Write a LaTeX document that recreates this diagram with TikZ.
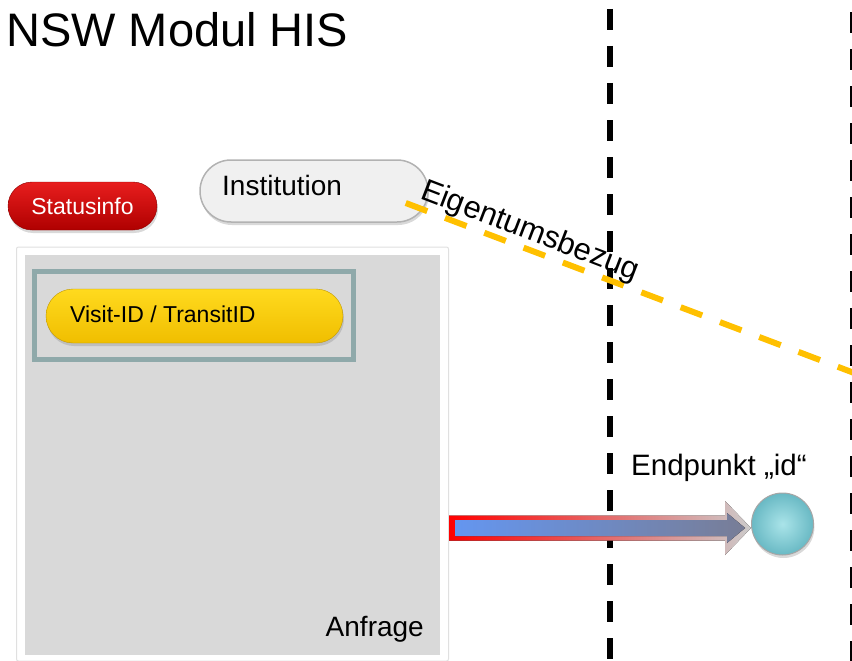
\documentclass[tikz,border=0pt]{standalone}
\usepackage{fontspec}
\setmainfont{Liberation Sans}
\usetikzlibrary{positioning,calc,shadows,shapes.misc}

\definecolor{rojoarriba}{RGB}{232,30,30}
\definecolor{rojoabajo}{RGB}{175,0,0}
\definecolor{amarilloarriba}{RGB}{255,218,30}
\definecolor{amarilloabajo}{RGB}{240,190,0}
\definecolor{gristexto}{RGB}{217,217,217}
\definecolor{turquesa}{RGB}{143,169,170}
\definecolor{naranja}{RGB}{255,192,0}
\definecolor{azulflecha}{RGB}{100,150,240}
\definecolor{grisflecha}{RGB}{120,125,150}
\definecolor{bolaclara}{RGB}{170,228,233}
\definecolor{bolaoscura}{RGB}{105,185,196}

\begin{document}
\begin{tikzpicture}[x=1pt, y=-1pt,
			 pille/.style={rounded rectangle, draw, inner sep=0pt,
			 	drop shadow={opacity=0.3, shadow xshift=1pt, shadow yshift=-3pt}},
			 texto/.style={inner sep=0pt, font=\fontsize{28}{32}\selectfont},
			 grenze/.style={line width=6pt, dash pattern=on 21pt off 16pt}
  		]
	\useasboundingbox (0,0) rectangle (852,661);

	%Titulo
		\node[texto, anchor=base west, font=\fontsize{47}{52}\selectfont] (titel) at (6,47) {NSW Modul HIS};

	%Lineas de frontera
		\draw[grenze] (610,9) -- (610,661);
		\draw[grenze] (853,12) -- (853,661);

	%Creamos los nodos de arriba
		\node[pille, top color=rojoarriba, bottom color=rojoabajo, draw=rojoabajo!80!black,
			minimum width=149pt, minimum height=48pt, text=white,
			font=\fontsize{23}{27}\selectfont] (status) at (82.5,206) {Statusinfo};
		\node[pille, fill=black!6, draw=black!30, line width=1.5pt,
			minimum width=228pt, minimum height=62pt] (inst) at (314,191) {};
		\node[texto, anchor=base west] (insttext) at (222,195) {Institution};

	%Caja de la anfrage
		\node[draw=black!12, fill=white, line width=1pt, rounded corners=2pt,
			minimum width=432pt, minimum height=414pt] (rahmen) at (232.5,454) {};
		\node[fill=gristexto, minimum width=415pt, minimum height=400pt] (anfragebox) at (232.5,455) {};
		\node[draw=turquesa, line width=5pt, minimum width=318.5pt, minimum height=88pt] (idrahmen) at (193.75,315.5) {};
		\node[pille, top color=amarilloarriba, bottom color=amarilloabajo, draw=amarilloabajo!80!black,
			minimum width=297pt, minimum height=54pt] (visit) at (194.5,316) {};
		\node[texto, anchor=base west, font=\fontsize{23}{27}\selectfont] (visittext) at (70,322) {Visit-ID / TransitID};
		\node[texto, anchor=base east] (anfrage) at (424,636) {Anfrage};

	%Endpunkt
		\node[circle, inner color=bolaclara, outer color=bolaoscura, draw=black!35, line width=1pt,
			minimum size=62pt, drop shadow={opacity=0.3, shadow xshift=1pt, shadow yshift=-3pt}] (endpunkt) at (782.5,524) {};
		\node[texto, anchor=base west, font=\fontsize{29.5}{34}\selectfont] (endtext) at (631,475) {Endpunkt „id“};

	%Flecha de la anfrage al endpunkt
		\coordinate (s) at ($(rahmen.east |- endpunkt.west)+(0,4)$);
		\coordinate (e) at ($(endpunkt.west)+(0,4)$);
		\fill[left color=red, right color=black!20]
			($(s)+(0,-12.5)$) -- ($(e)+(-26,-12.5)$) -- ($(e)+(-26,-27)$) -- (e)
			-- ($(e)+(-26,27)$) -- ($(e)+(-26,12.5)$) -- ($(s)+(0,12.5)$) -- cycle;
		\fill[left color=azulflecha, right color=grisflecha]
			($(s)+(6,-8)$) -- ($(e)+(-24,-8)$) -- ($(e)+(-24,-15)$) -- ($(e)+(-6,0)$)
			-- ($(e)+(-24,15)$) -- ($(e)+(-24,8)$) -- ($(s)+(6,8)$) -- cycle;

	%Eigentumsbezug
		\coordinate (eigentumende) at (870,379);
		\draw[naranja, line width=6pt, dash pattern=on 23pt off 19pt]
			($(inst.east)+(-23,12)$) -- (eigentumende);
		\node[texto, anchor=base west, rotate=-21, font=\fontsize{31}{35}\selectfont] (eigentum) at (419,198) {Eigentumsbezug};
\end{tikzpicture}
\end{document}
